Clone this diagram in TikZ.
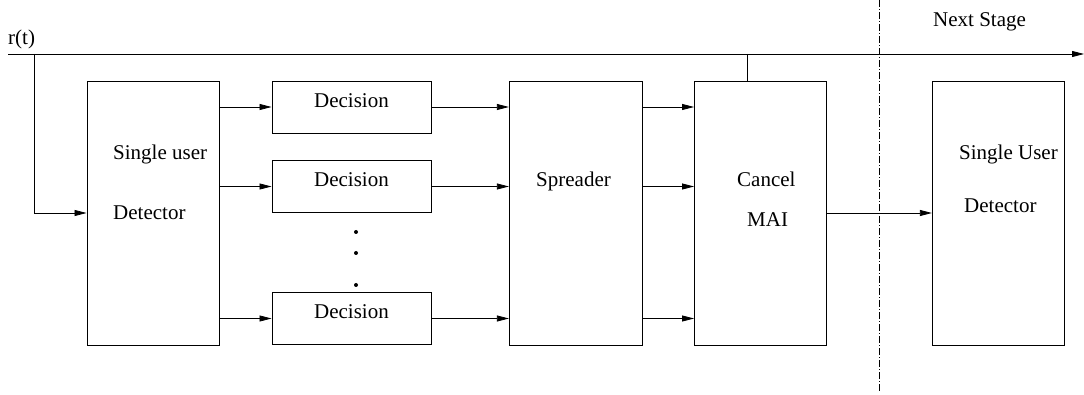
\documentclass[tikz,border=0pt]{standalone}
\usepackage{fontspec}
\setmainfont{Liberation Serif}
\usepackage{tikz}
\usetikzlibrary{calc,positioning,arrows.meta}

\begin{document}
\begin{tikzpicture}[x=1pt,y=-1pt,
		every node/.style={font=\rmfamily\fontsize{21}{25}\selectfont},
		blk/.style={draw, line width=.9pt, minimum width=132pt, minimum height=264pt, inner sep=0pt},
		decbox/.style={draw, line width=.9pt, minimum width=159pt, minimum height=52pt, inner sep=0pt, text height=14pt, text depth=13pt},
		txt/.style={anchor=base west, inner sep=0pt},
		sig/.style={line width=.8pt, -{Triangle[length=12pt,width=6pt]}}]
		\useasboundingbox (0,0) rectangle (1084,395);

		% input line r(t)
		\coordinate (rt) at (8,54);
		\coordinate (rtend) at (1084,54);
		\coordinate (tapA) at (34,54);
		\coordinate (tapB) at (747,54);
		\node[txt] (rtlbl) at (8,45) {r(t)};
		\draw[sig] (rt) -- (rtend);

		% stage boundary
		\draw[line width=.7pt, dash pattern=on 7pt off 2pt on 1pt off 2pt] (879,0) -- (879,392);
		\node[txt] (nextlbl) at (933,27) {Next Stage};

		% blocks
		\node[blk] (sudA) at (153,213) {};
		\node[decbox] (dec1) at (351.5,107) {Decision};
		\node[decbox] (dec2) at (351.5,186.5) {Decision};
		\node[decbox] (dec3) at (351.5,318.5) {Decision};
		\node[blk, minimum width=133pt] (spread) at (575.8,213) {};
		\node[blk] (cancel) at (760.5,213) {};
		\node[blk] (sudB) at (998.3,213) {};

		\node[txt] (sudAtop) at (113,160) {Single user};
		\node[txt] (sudAbot) at (113,220) {Detector};
		\node[txt] (spreadlbl) at (536,187) {Spreader};
		\node[txt] (cancellbl) at (737,187) {Cancel};
		\node[txt] (mailbl) at (747,227) {MAI};
		\node[txt] (sudBtop) at (959,160) {Single User};
		\node[txt] (sudBbot) at (964,213) {Detector};

		\fill (356,232) circle (2pt) (356,253) circle (2pt) (356,285) circle (2pt);

		% connections
		\draw[sig] (tapA) |- (sudA.west);
		\draw[line width=.8pt] (tapB) -- (tapB |- cancel.north);
		\foreach \d in {dec1,dec2,dec3} {
			\draw[sig] (\d.west -| sudA.east) -- (\d.west);
			\draw[sig] (\d.east) -- (\d.east -| spread.west);
			\draw[sig] (\d.east -| spread.east) -- (\d.east -| cancel.west);
		}
		\draw[sig] (cancel.east) -- (sudB.west);
	\end{tikzpicture}
\end{document}
